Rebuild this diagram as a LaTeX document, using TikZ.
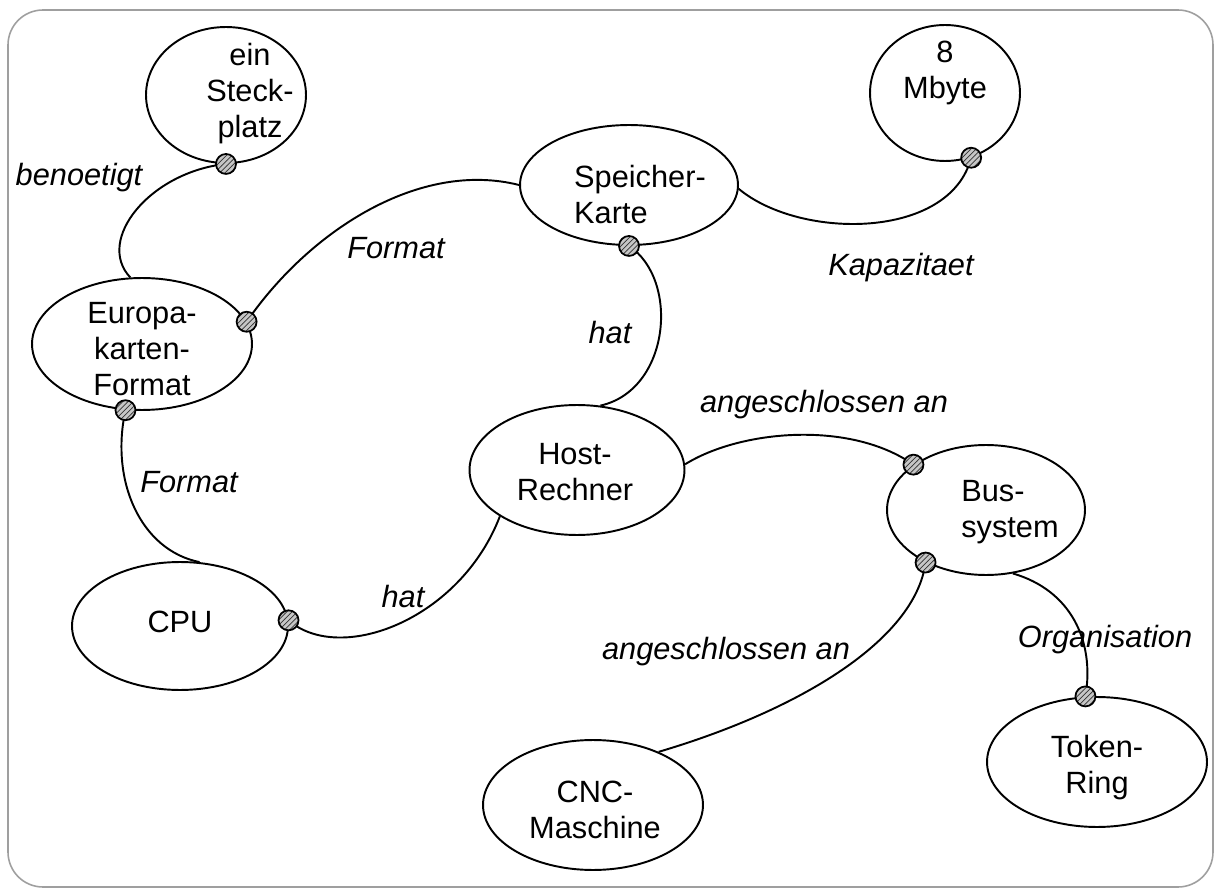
\documentclass[tikz,border=0pt]{standalone}
\usepackage{fontspec}
\setmainfont{Liberation Sans}
\usetikzlibrary{shapes.geometric,patterns}

\begin{document}
\begin{tikzpicture}[x=0.02cm,y=-0.02cm,
  concept/.style={ellipse, draw, line width=1.1pt, fill=white, inner sep=0pt},
  ctext/.style={align=center, font=\fontsize{17.5}{20.5}\selectfont, inner sep=0pt},
  ltext/.style={align=left, font=\fontsize{17.5}{20.5}\selectfont, inner sep=0pt},
  rel/.style={font=\itshape\fontsize{17.5}{20.5}\selectfont, inner sep=0pt},
  link/.style={line width=1.1pt},
  hdot/.style={circle, draw, line width=1pt, minimum size=0.4cm, inner sep=0pt,
    preaction={fill=gray!45}, pattern=north east lines, pattern color=black!80}]

\useasboundingbox (0,0) rectangle (1214,888);
\draw[gray!75, line width=0.9pt, rounded corners=0.7cm] (8,10) rectangle (1213,887);

% concepts
\node[concept, minimum width=3.2cm,  minimum height=2.72cm] (st) at (226,95) {};
\node[concept, minimum width=3cm,    minimum height=2.72cm] (mb) at (945,93) {};
\node[concept, minimum width=4.36cm, minimum height=2.4cm]  (sp) at (629,185) {};
\node[concept, minimum width=4.4cm,  minimum height=2.64cm] (eu) at (142,344) {};
\node[concept, minimum width=4.3cm,  minimum height=2.6cm]  (ho) at (577,470) {};
\node[concept, minimum width=3.96cm, minimum height=2.6cm]  (bu) at (986,510) {};
\node[concept, minimum width=4.32cm, minimum height=2.56cm] (cp) at (180,626) {};
\node[concept, minimum width=4.4cm,  minimum height=2.6cm]  (cn) at (593,805) {};
\node[concept, minimum width=4.4cm,  minimum height=2.6cm]  (tr) at (1097,762) {};

\node[ctext] (st-t) at (250,94)  {ein\\Steck-\\platz};
\node[ctext] (mb-t) at (945,73)  {8\\Mbyte};
\node[ltext] (sp-t) at (640,195) {Speicher-\\Karte};
\node[ctext] (eu-t) at (142,349) {Europa-\\karten-\\Format};
\node[ctext] (ho-t) at (575,472) {Host-\\Rechner};
\node[ltext] (bu-t) at (1010,512) {Bus-\\system};
\node[ctext] (cp-t) at (180,622) {CPU};
\node[ctext] (cn-t) at (595,810) {CNC-\\Maschine};
\node[ctext] (tr-t) at (1097,768) {Token-\\Ring};

% attachment points
\coordinate (st-b) at (st.-90);
\coordinate (mb-b) at (mb.-68);
\coordinate (sp-b) at (sp.-90);
\coordinate (eu-r) at (eu.12);
\coordinate (eu-b) at (eu.-104);
\coordinate (bu-a) at (bu.148);
\coordinate (bu-c) at (bu.-139);
\coordinate (cp-r) at (cp.3);
\coordinate (tr-a) at (tr.100);

% relations
\draw[link] (st-b) .. controls (150,172) and (95,240) .. (eu.100);
\draw[link] (eu-r) .. controls (310,230) and (420,160) .. (sp.180);
\draw[link] (sp.-2) .. controls (800,240) and (950,240) .. (mb-b);
\draw[link] (sp-b) .. controls (680,280) and (670,390) .. (ho.70);
\draw[link] (eu-b) .. controls (110,480) and (140,550) .. (cp.73);
\draw[link] (cp-r) .. controls (340,665) and (460,620) .. (ho.-149);
\draw[link] (ho.3) .. controls (740,430) and (850,420) .. (bu-a);
\draw[link] (bu-c) .. controls (915,640) and (800,710) .. (cn.39);
\draw[link] (bu.-67) .. controls (1070,590) and (1095,640) .. (tr-a);

\foreach \p in {st-b,mb-b,sp-b,eu-r,eu-b,bu-a,bu-c,cp-r,tr-a}
  \node[hdot] (dot-\p) at (\p) {};

% relation labels
\node[rel] (l1) at (79,178)  {benoetigt};
\node[rel] (l2) at (396,248) {Format};
\node[rel] (l3) at (901,268) {Kapazitaet};
\node[rel] (l4) at (610,333) {hat};
\node[rel] (l5) at (189,482) {Format};
\node[rel] (l6) at (403,597) {hat};
\node[rel] (l7) at (824,405) {angeschlossen an};
\node[rel] (l8) at (726,652) {angeschlossen an};
\node[rel] (l9) at (1105,640) {Organisation};
\end{tikzpicture}
\end{document}
